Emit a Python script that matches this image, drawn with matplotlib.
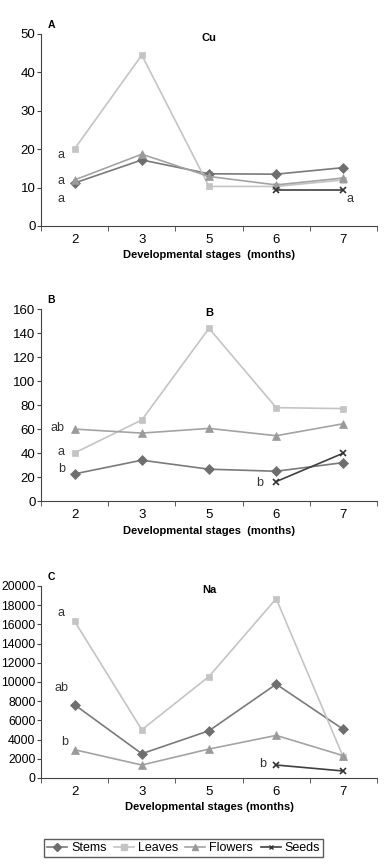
import matplotlib
matplotlib.use("Agg")
import matplotlib.pyplot as plt
from matplotlib.lines import Line2D

plt.rcParams['font.family'] = ['Liberation Sans Narrow', 'Liberation Sans', 'DejaVu Sans']

# Developmental stages (months)
stages = ["2", "3", "5", "6", "7"]

# Cu
cu_stems = [11.2, 17.2, 13.6, 13.5, 15.2]
cu_leaves = [20.1, 44.5, 10.3, 10.3, 12.0]
cu_flowers = [12.0, 18.7, 12.9, 10.7, 12.5]
cu_seeds = [None, None, None, 9.4, 9.4]

# B
b_stems = [22.6, 34.0, 26.5, 24.8, 32.0]
b_leaves = [40.1, 67.5, 143.9, 77.8, 77.0]
b_flowers = [59.9, 56.6, 60.5, 54.4, 64.4]
b_seeds = [None, None, None, 16.2, 39.9]

# Na
na_stems = [7626, 2530, 4922, 9775, 5061]
na_leaves = [16326, 5026, 10572, 18683, 2149]
na_flowers = [2946, 1352, 3016, 4437, 2322]
na_seeds = [None, None, None, 1352, 728]

series_names = ["Stems", "Leaves", "Flowers", "Seeds"]
colors = ["#7a7a7a", "#c4c4c4", "#a3a3a3", "#404040"]
mcolors = ["#6e6e6e", "#c4c4c4", "#9a9a9a", "#333333"]
markers = ["D", "s", "^", "x"]
msizes = [5, 5, 5.5, 4.5]

panels = [
    ("A", "Cu", [cu_stems, cu_leaves, cu_flowers, cu_seeds], 50, 10,
     [(-0.2, 18.5, "a"), (-0.2, 11.8, "a"), (-0.2, 7.0, "a"), (4.1, 7.0, "a")]),
    ("B", "B", [b_stems, b_leaves, b_flowers, b_seeds], 160, 20,
     [(-0.25, 61.0, "ab"), (-0.2, 41.0, "a"), (-0.2, 27.0, "b"), (2.75, 15.0, "b")]),
    ("C", "Na", [na_stems, na_leaves, na_flowers, na_seeds], 20000, 2000,
     [(-0.2, 17200, "a"), (-0.2, 9400, "ab"), (-0.15, 3800, "b"), (2.8, 1500, "b")]),
]

fig = plt.figure(figsize=(3.86, 8.64), dpi=100)
W, H = 386, 864
tops = [34, 309, 586]
hgt = 192

x = list(range(len(stages)))

for (letter, title, data, ymax, ystep, notes), top in zip(panels, tops):
    ax = fig.add_axes([41 / W, 1 - (top + hgt) / H, 336 / W, hgt / H])
    for vals, c, mc, m, ms in zip(data, colors, mcolors, markers, msizes):
        xs = [xi for xi, v in zip(x, vals) if v is not None]
        ys = [v for v in vals if v is not None]
        ax.plot(xs, ys, color=c, lw=1.2, marker=m, ms=ms, mfc=mc, mec=mc,
                mew=1.2 if m == "x" else 0.5)
    ax.set_xlim(-0.5, len(stages) - 0.5)
    ax.set_ylim(0, ymax)
    ax.set_yticks(range(0, ymax + 1, ystep))
    ax.set_xticks(x)
    ax.set_xticklabels(stages)
    ax.set_xticks([i + 0.5 for i in range(-1, len(stages))], minor=True)
    ax.tick_params(axis="x", which="major", length=0, labelsize=9.5, pad=6)
    ax.tick_params(axis="x", which="minor", length=3.5, direction="out", color="#444444")
    ax.tick_params(axis="y", length=3, direction="out", labelsize=9.5 if ymax < 1000 else 8.8,
                   pad=1, color="#444444")
    for s in ["top", "right"]:
        ax.spines[s].set_visible(False)
    ax.spines["left"].set_color("#444444")
    ax.spines["bottom"].set_color("#444444")
    ax.text(0.5, 0.98, title, transform=ax.transAxes, ha="center", va="center",
            fontsize=8, fontweight="bold")
    ax.text(0.02, 1.045, letter, transform=ax.transAxes, ha="left", va="center",
            fontsize=7.5, fontweight="bold")
    for nx, ny, t in notes:
        ax.text(nx, ny, t, fontsize=9, color="#333333", ha="center", va="center")
    ax.set_xlabel("Developmental stages  (months)" if letter != "C" else "Developmental stages (months)",
                  fontsize=8, fontweight="bold", labelpad=3)

handles = [Line2D([], [], color=c, lw=1.2, marker=m, ms=ms - 1, mfc=mc, mec=mc)
           for c, mc, m, ms in zip(colors, mcolors, markers, msizes)]
fig.legend(handles, series_names, loc="center", ncol=4,
           bbox_to_anchor=(183.5 / W, 1 - 848 / H), fontsize=9, frameon=True,
           fancybox=False, edgecolor="#333333", handlelength=1.6, handletextpad=0.3,
           columnspacing=0.6, borderpad=0.25)

fig.savefig("out.png", dpi=100)
